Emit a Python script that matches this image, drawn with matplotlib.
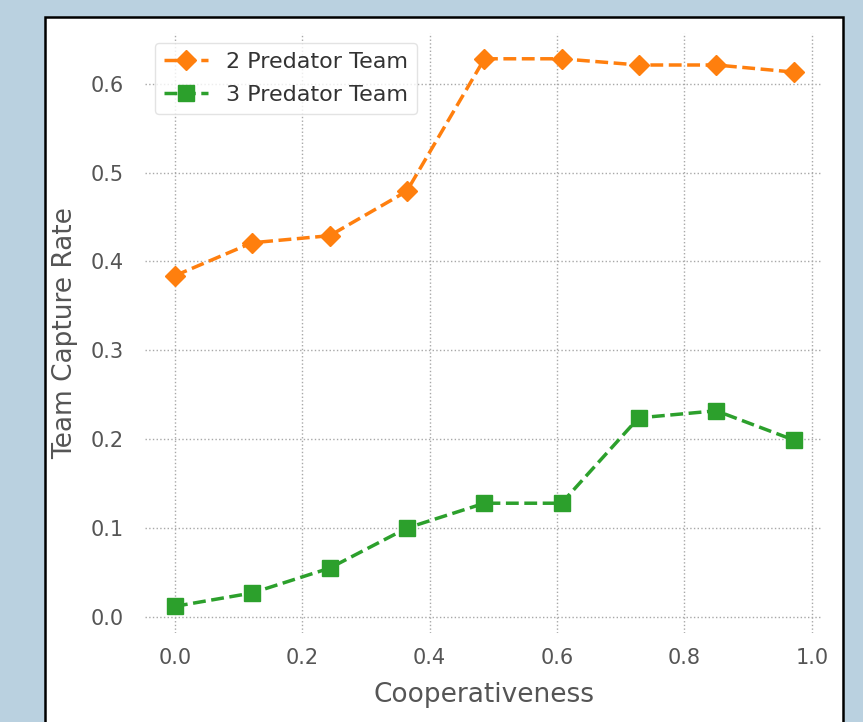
import matplotlib
matplotlib.use("Agg")
import matplotlib.pyplot as plt
from matplotlib.patches import Rectangle

cooperativeness = [0.0, 0.121, 0.243, 0.364, 0.486, 0.607, 0.728, 0.850, 0.972]
two_predator = [0.384, 0.421, 0.429, 0.479, 0.628, 0.628, 0.621, 0.621, 0.613]
three_predator = [0.012, 0.027, 0.055, 0.100, 0.128, 0.128, 0.224, 0.232, 0.199]
series_labels = ["2 Predator Team", "3 Predator Team"]
x_label = "Cooperativeness"
y_label = "Team Capture Rate"

plt.rcParams['font.family'] = ['DejaVu Sans']

fig = plt.figure(figsize=(8.63, 7.22), dpi=100)
fig.patch.set_facecolor('#bad1e0')
panel = Rectangle((45 / 863, -0.05), (843 - 45) / 863, 1 - 17 / 722 + 0.05,
                  transform=fig.transFigure, facecolor='white', edgecolor='black',
                  linewidth=1.8, zorder=-10)
fig.add_artist(panel)

ax = fig.add_axes([145 / 863, 1 - 633 / 722, (822 - 145) / 863, (633 - 33) / 722])
ax.set_zorder(5)
ax.set_facecolor('white')
ax.plot(cooperativeness, two_predator, linestyle='--', marker='D', color='#ff7f0e',
        linewidth=2.5, markersize=10, label=series_labels[0], zorder=3)
ax.plot(cooperativeness, three_predator, linestyle='--', marker='s', color='#2ca02c',
        linewidth=2.5, markersize=11, label=series_labels[1], zorder=3)

ax.set_xlim(-0.047, 1.016)
ax.set_ylim(-0.018, 0.657)
ax.set_xticks([0.0, 0.2, 0.4, 0.6, 0.8, 1.0])
ax.set_yticks([0.0, 0.1, 0.2, 0.3, 0.4, 0.5, 0.6])
ax.grid(True, linestyle=':', color='#a8a8a8', linewidth=1.0, zorder=0)
for s in ax.spines.values():
    s.set_visible(False)
ax.tick_params(axis='y', length=0, labelsize=15, labelcolor='#555555', pad=15)
ax.tick_params(axis='x', length=0, labelsize=15, labelcolor='#555555', pad=11)
ax.set_xlabel(x_label, fontsize=19, color='#555555', labelpad=10)
ax.set_ylabel(y_label, fontsize=19, color='#555555', labelpad=9)

leg = ax.legend(loc='upper left', fontsize=16, handlelength=2.0, handletextpad=0.8,
                labelspacing=0.6, borderpad=0.4, framealpha=0.8, edgecolor='#dddddd',
                borderaxespad=0.45)
for t in leg.get_texts():
    t.set_color('#333333')

fig.savefig('out.png', dpi=100, facecolor=fig.get_facecolor())
